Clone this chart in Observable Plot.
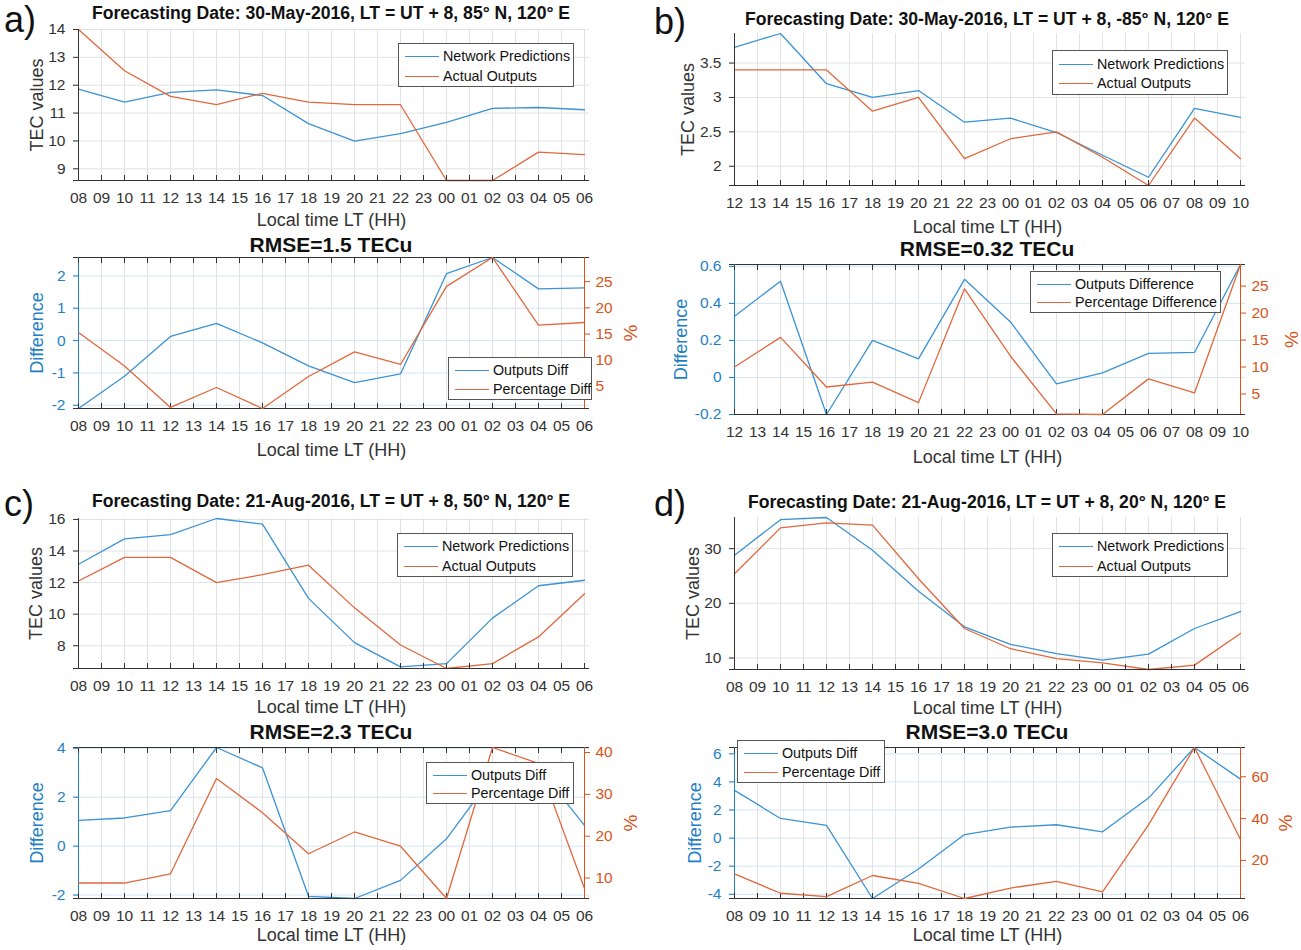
<!DOCTYPE html>
<html><head><meta charset="utf-8">
<script src="https://cdn.jsdelivr.net/npm/d3@7"></script>
<script src="https://cdn.jsdelivr.net/npm/@observablehq/plot@0.6"></script>
<style>
body{margin:0;background:#fff;font-family:"Liberation Sans",Arial,sans-serif;}
#root{position:relative;width:1301px;height:950px;overflow:hidden;background:#fff;}
#root svg{position:absolute;overflow:visible;}
.t{position:absolute;white-space:nowrap;color:#111;line-height:1;}
.title{font-weight:bold;font-size:17.6px;transform:translate(-50%,-50%);}
.rmse{font-weight:bold;font-size:21px;transform:translate(-50%,-50%);}
.tag{font-size:36px;color:#111;}
.leg{position:absolute;background:#fff;border:1px solid #555;box-sizing:border-box;}
.leg .ln{position:absolute;height:0;border-top:1.4px solid;}
.leg .lt{position:absolute;font-size:14.3px;color:#111;transform:translateY(-50%);white-space:nowrap;line-height:1;}
</style></head><body><div id="root"></div>
<script>
// ---------- data ----------
const hoursAC = ["08","09","10","11","12","13","14","15","16","17","18","19","20","21","22","23","00","01","02","03","04","05","06"];
const hoursB  = ["12","13","14","15","16","17","18","19","20","21","22","23","00","01","02","03","04","05","06","07","08","09","10"];
const sampleAC = ["08","10","12","14","16","18","20","22","00","02","04","06"];
const sampleB  = ["12","14","16","18","20","22","00","02","04","06","08","10"];

const predA   = [11.86, 11.39, 11.74, 11.83, 11.63, 10.62, 9.99, 10.26, 10.67, 11.17, 11.20, 11.12];
const actualA = [14.00, 12.52, 11.60, 11.30, 11.71, 11.39, 11.30, 11.30, 8.58, 8.58, 9.60, 9.51];
const diffA   = [-2.10, -1.10, 0.13, 0.53, -0.07, -0.78, -1.30, -1.03, 2.07, 2.57, 1.60, 1.63];
const pctA    = [15.3, 8.9, 1.0, 4.8, 0.8, 6.9, 11.6, 9.2, 24.1, 29.6, 16.7, 17.2];

const predB   = [3.73, 3.93, 3.20, 3.00, 3.10, 2.64, 2.70, 2.49, 2.16, 1.84, 2.84, 2.71];
const actualB = [3.40, 3.40, 3.40, 2.80, 3.00, 2.11, 2.40, 2.50, 2.13, 1.72, 2.70, 2.11];
const diffB   = [0.33, 0.52, -0.20, 0.20, 0.10, 0.53, 0.30, -0.035, 0.025, 0.13, 0.135, 0.61];
const pctB    = [10.0, 15.5, 6.3, 7.2, 3.4, 24.5, 12.0, 1.3, 1.2, 7.8, 5.2, 29.0];

const predC   = [13.16, 14.77, 15.04, 16.06, 15.70, 11.00, 8.20, 6.66, 6.87, 9.75, 11.80, 12.15];
const actualC = [12.10, 13.60, 13.60, 12.00, 12.50, 13.10, 10.40, 8.05, 6.56, 6.87, 8.56, 11.30];
const diffC   = [1.05, 1.15, 1.45, 4.03, 3.20, -2.05, -2.14, -1.40, 0.30, 2.85, 3.20, 0.85];
const pctC    = [8.8, 8.8, 11.0, 33.8, 25.6, 15.8, 21.0, 17.6, 5.1, 41.2, 37.4, 7.5];

const predD   = [28.8, 35.3, 35.7, 29.7, 22.2, 15.7, 12.5, 10.8, 9.6, 10.7, 15.4, 18.5];
const actualD = [25.4, 33.8, 34.7, 34.3, 24.5, 15.4, 11.7, 9.9, 9.1, 7.9, 8.7, 14.5];
const diffD   = [3.40, 1.40, 0.90, -4.30, -2.20, 0.25, 0.78, 0.95, 0.45, 2.85, 6.45, 4.20];
const pctD    = [13.6, 4.3, 2.7, 12.8, 9.0, 1.8, 6.8, 10.0, 5.0, 37.0, 74.0, 30.0];

const tecTicksA = [9, 10, 11, 12, 13, 14];
const difTicksA = [-2, -1, 0, 1, 2];
const pctTicksA = [5, 10, 15, 20, 25];
const tecTicksB = [2, 2.5, 3, 3.5];
const difTicksB = [-0.2, 0, 0.2, 0.4, 0.6];
const pctTicksB = [5, 10, 15, 20, 25];
const tecTicksC = [8, 10, 12, 14, 16];
const difTicksC = [-2, 0, 2, 4];
const pctTicksC = [10, 20, 30, 40];
const tecTicksD = [10, 20, 30];
const difTicksD = [-4, -2, 0, 2, 4, 6];
const pctTicksD = [20, 40, 60];

const tags = ["a)", "b)", "c)", "d)"];
const titles = [
  "Forecasting Date: 30-May-2016, LT = UT + 8, 85° N, 120° E",
  "Forecasting Date: 30-May-2016, LT = UT + 8, -85° N, 120° E",
  "Forecasting Date: 21-Aug-2016, LT = UT + 8, 50° N, 120° E",
  "Forecasting Date: 21-Aug-2016, LT = UT + 8, 20° N, 120° E"
];
const rmseTitles = ["RMSE=1.5 TECu", "RMSE=0.32 TECu", "RMSE=2.3 TECu", "RMSE=3.0 TECu"];
const topLegend = ["Network Predictions", "Actual Outputs"];
const botLegends = [
  ["Outputs Diff", "Percentage Diff"],
  ["Outputs Difference", "Percentage Difference"],
  ["Outputs Diff", "Percentage Diff"],
  ["Outputs Diff", "Percentage Diff"]
];
const xLabel = "Local time LT (HH)";
const tecLabel = "TEC values";
const difLabel = "Difference";
const pctLabel = "%";

// ---------- styling / layout ----------
const FONT = "'Liberation Sans', Arial, sans-serif";
const BLUE = "#3b93d4", ORANGE = "#e0683c";
const BLUE_T = "#1f7fc6", ORANGE_T = "#d95319";
const AX = "#333333", GRID = "#e2e2e2", GRIDB = "#d3e5f4";
const ML = 70, MR = 60, MT = 10, MB = 60, PW = 516;
const TICKF = 15.5, LABF = 18;

const panels = [
  {hours: hoursAC, sample: sampleAC, pred: predA, actual: actualA, diff: diffA, pct: pctA,
   tecT: tecTicksA, difT: difTicksA, pctT: pctTicksA,
   L: {x: 73, ty: 29, th: 151, by: 257, bh: 151, titleY: 14, rmseY: 244, tagX: 4, tagY: 2,
       xloT: 45, xloB: 47, yloT: 43.5, yloB: 43.5, rlo: 47,
       legT: [398, 43, 176, 44], legB: [448, 357, 144, 43]}},
  {hours: hoursB, sample: sampleB, pred: predB, actual: actualB, diff: diffB, pct: pctB,
   tecT: tecTicksB, difT: difTicksB, pctT: pctTicksB,
   L: {x: 729, ty: 33, th: 152, by: 264, bh: 150, titleY: 20, rmseY: 248, tagX: 654, tagY: 4,
       xloT: 47, xloB: 48, yloT: 48, yloB: 55.5, rlo: 52,
       legT: [1052, 50, 176, 45], legB: [1030, 271, 191, 42]}},
  {hours: hoursAC, sample: sampleAC, pred: predC, actual: actualC, diff: diffC, pct: pctC,
   tecT: tecTicksC, difT: difTicksC, pctT: pctTicksC,
   L: {x: 73, ty: 518, th: 150, by: 747, bh: 151, titleY: 502, rmseY: 731, tagX: 4, tagY: 486,
       xloT: 44, xloB: 42, yloT: 44.5, yloB: 43.5, rlo: 47,
       legT: [397, 533, 176, 44], legB: [426, 762, 148, 42]}},
  {hours: hoursAC, sample: sampleAC, pred: predD, actual: actualD, diff: diffD, pct: pctD,
   tecT: tecTicksD, difT: difTicksD, pctT: pctTicksD,
   L: {x: 729, ty: 517, th: 152, by: 747, bh: 151, titleY: 503, rmseY: 731, tagX: 654, tagY: 486,
       xloT: 44, xloB: 42, yloT: 43.5, yloB: 41.5, rlo: 46,
       legT: [1052, 533, 176, 44], legB: [737, 740, 148, 43]}}
];

const root = document.getElementById("root");
const fmt = d => String(d);
const blank = () => "";

function place(svg, left, top) {
  svg.style.left = left + "px";
  svg.style.top = top + "px";
  root.appendChild(svg);
}
function addText(cls, txt, x, y) {
  const d = document.createElement("div");
  d.className = "t " + cls;
  d.textContent = txt;
  d.style.left = x + "px";
  d.style.top = y + "px";
  root.appendChild(d);
}
function addLegend([x, y, w, h], labels, colors) {
  const box = document.createElement("div");
  box.className = "leg";
  Object.assign(box.style, {left: x + "px", top: y + "px", width: w + "px", height: h + "px"});
  labels.forEach((lab, i) => {
    const cy = h * (i === 0 ? 0.28 : 0.72);
    const ln = document.createElement("div");
    ln.className = "ln";
    Object.assign(ln.style, {left: "6px", width: "34px", top: cy + "px", borderTopColor: colors[i]});
    const t = document.createElement("div");
    t.className = "lt";
    t.textContent = lab;
    Object.assign(t.style, {left: "44px", top: cy + "px"});
    box.appendChild(ln); box.appendChild(t);
  });
  root.appendChild(box);
}

const commonStyle = {fontFamily: FONT, fontSize: TICKF + "px", color: AX, background: "transparent", overflow: "visible"};

panels.forEach((p, k) => {
  const L = p.L;
  const last = p.hours[p.hours.length - 1];
  const predRows = p.sample.map((h, i) => ({h, v: p.pred[i]}));
  const actRows = p.sample.map((h, i) => ({h, v: p.actual[i]}));
  const diffRows = p.sample.map((h, i) => ({h, v: p.diff[i]}));
  const pctRows = p.sample.map((h, i) => ({h, v: p.pct[i]}));
  const tecDom = d3.extent([...p.pred, ...p.actual]);
  const difDom = d3.extent(p.diff);
  const pctDom = d3.extent(p.pct);
  const xScale = {type: "point", domain: p.hours, padding: 0, axis: null};

  // ---- top: TEC values ----
  const top = Plot.plot({
    width: PW + ML + MR, height: L.th + MT + MB,
    marginLeft: ML, marginRight: MR, marginTop: MT, marginBottom: MB,
    style: commonStyle,
    x: xScale,
    y: {domain: tecDom, axis: null},
    marks: [
      Plot.gridX(p.hours, {stroke: GRID, strokeOpacity: 1}),
      Plot.gridY(p.tecT, {stroke: GRID, strokeOpacity: 1}),
      Plot.line(predRows, {x: "h", y: "v", stroke: BLUE, strokeWidth: 1.3}),
      Plot.line(actRows, {x: "h", y: "v", stroke: ORANGE, strokeWidth: 1.3}),
      Plot.ruleX([p.hours[0]], {stroke: AX}),
      Plot.ruleY([tecDom[0]], {stroke: AX}),
      Plot.axisX(p.hours, {tickSize: 5, dy: -5, tickFormat: blank, label: null, stroke: AX}),
      Plot.axisX(p.hours, {tickSize: 0, tickPadding: 11, tickFormat: fmt, label: null, fontSize: TICKF, fill: AX}),
      Plot.axisX(p.hours, {tickSize: 0, tickFormat: blank, label: xLabel, labelAnchor: "center", labelArrow: "none", labelOffset: L.xloT, fontSize: LABF, fill: AX}),
      Plot.axisY(p.tecT, {tickSize: 5, dx: 5, tickFormat: blank, label: null, stroke: AX}),
      Plot.axisY(p.tecT, {tickSize: 0, tickPadding: 8, tickFormat: fmt, label: null, fontSize: TICKF, fill: AX}),
      Plot.axisY(p.tecT, {tickSize: 0, tickFormat: blank, label: tecLabel, labelAnchor: "center", labelArrow: "none", labelOffset: L.yloT, fontSize: LABF, fill: AX})
    ]
  });
  place(top, L.x - ML, L.ty - MT);

  // ---- bottom: difference (left axis) ----
  const bot1 = Plot.plot({
    width: PW + ML + MR, height: L.bh + MT + MB,
    marginLeft: ML, marginRight: MR, marginTop: MT, marginBottom: MB,
    style: commonStyle,
    x: xScale,
    y: {domain: difDom, axis: null},
    marks: [
      Plot.gridX(p.hours, {stroke: GRID, strokeOpacity: 1}),
      Plot.gridY(p.difT, {stroke: GRIDB, strokeOpacity: 1}),
      Plot.line(diffRows, {x: "h", y: "v", stroke: BLUE, strokeWidth: 1.3}),
      Plot.ruleY([difDom[0]], {stroke: AX}),
      Plot.ruleY([difDom[1]], {stroke: AX}),
      Plot.ruleX([p.hours[0]], {stroke: BLUE_T}),
      Plot.axisX(p.hours, {tickSize: 5, dy: -5, tickFormat: blank, label: null, stroke: AX}),
      Plot.axisX(p.hours, {anchor: "top", tickSize: 5, dy: 5, tickFormat: blank, label: null, stroke: AX}),
      Plot.axisX(p.hours, {tickSize: 0, tickPadding: 11, tickFormat: fmt, label: null, fontSize: TICKF, fill: AX}),
      Plot.axisX(p.hours, {tickSize: 0, tickFormat: blank, label: xLabel, labelAnchor: "center", labelArrow: "none", labelOffset: L.xloB, fontSize: LABF, fill: AX}),
      Plot.axisY(p.difT, {tickSize: 5, dx: 5, tickFormat: blank, label: null, stroke: BLUE_T}),
      Plot.axisY(p.difT, {tickSize: 0, tickPadding: 8, tickFormat: fmt, label: null, fontSize: TICKF, fill: BLUE_T}),
      Plot.axisY(p.difT, {tickSize: 0, tickFormat: blank, label: difLabel, labelAnchor: "center", labelArrow: "none", labelOffset: L.yloB, fontSize: LABF, fill: BLUE_T})
    ]
  });
  place(bot1, L.x - ML, L.by - MT);

  // ---- bottom: percentage (right axis) ----
  const bot2 = Plot.plot({
    width: PW + ML + MR, height: L.bh + MT + MB,
    marginLeft: ML, marginRight: MR, marginTop: MT, marginBottom: MB,
    style: commonStyle,
    x: xScale,
    y: {domain: pctDom, axis: null},
    marks: [
      Plot.line(pctRows, {x: "h", y: "v", stroke: ORANGE, strokeWidth: 1.3}),
      Plot.ruleX([last], {stroke: ORANGE_T}),
      Plot.axisY(p.pctT, {anchor: "right", tickSize: 5, dx: -5, tickFormat: blank, label: null, stroke: ORANGE_T}),
      Plot.axisY(p.pctT, {anchor: "right", tickSize: 0, tickPadding: 6, tickFormat: fmt, label: null, fontSize: TICKF, fill: ORANGE_T}),
      Plot.axisY(p.pctT, {anchor: "right", tickSize: 0, tickFormat: blank, label: pctLabel, labelAnchor: "center", labelArrow: "none", labelOffset: L.rlo, fontSize: 19, fill: ORANGE_T})
    ]
  });
  place(bot2, L.x - ML, L.by - MT);

  // ---- texts & legends ----
  addText("title", titles[k], L.x + PW / 2, L.titleY);
  addText("rmse", rmseTitles[k], L.x + PW / 2, L.rmseY);
  addText("tag", tags[k], L.tagX, L.tagY);
  addLegend(L.legT, topLegend, [BLUE, ORANGE]);
  addLegend(L.legB, botLegends[k], [BLUE, ORANGE]);
});
</script>
</body></html>
